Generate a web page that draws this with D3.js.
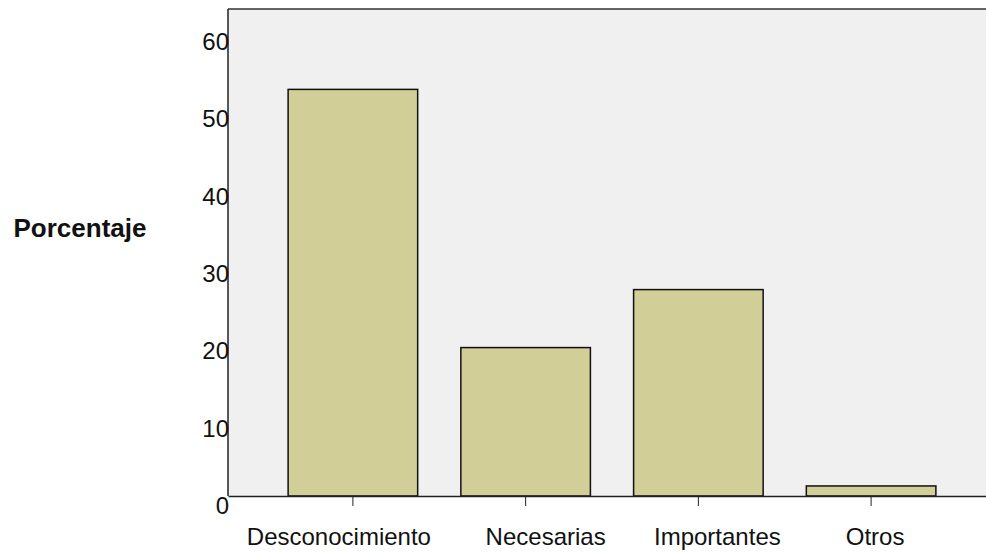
<!DOCTYPE html>
<html><head><meta charset="utf-8">
<script src="https://cdn.jsdelivr.net/npm/d3@7/dist/d3.min.js"></script>
<style>body{margin:0;background:#fff}svg{display:block}</style>
</head><body>
<svg id="c" width="986" height="552"></svg>
<script>
const categories = ["Desconocimiento", "Necesarias", "Importantes", "Otros"];
const values = [52.6, 19.2, 26.7, 1.3];
const yTicks = [0, 10, 20, 30, 40, 50, 60];
const yTitle = "Porcentaje";
// horizontal nudge of each category label relative to its tick (layout only)
const labelShift = [-14, 20, 19, 4];

const svg = d3.select("#c");
const pLeft = 228, pRight = 996, pTop = 9, pBottom = 496;
const x = d3.scaleBand().domain(categories).range([pLeft, pRight]).paddingInner(0.25).paddingOuter(0.348);
const y = d3.scaleLinear().domain([0, 63]).range([pBottom, pTop]);

svg.append("rect").attr("x", pLeft).attr("y", pTop).attr("width", pRight - pLeft).attr("height", pBottom - pTop)
  .attr("fill", "#f0f0f0");

svg.selectAll("rect.bar").data(values).enter().append("rect").attr("class", "bar")
  .attr("x", (d, i) => x(categories[i]))
  .attr("y", d => y(d))
  .attr("width", x.bandwidth())
  .attr("height", d => y(0) - y(d))
  .attr("fill", "#d2ce98").attr("stroke", "#111").attr("stroke-width", 1.5);

// frame lines
svg.append("line").attr("x1", pLeft).attr("x2", pRight).attr("y1", pTop).attr("y2", pTop).attr("stroke", "#333").attr("stroke-width", 1.5);
svg.append("line").attr("x1", pLeft).attr("x2", pLeft).attr("y1", pTop).attr("y2", pBottom).attr("stroke", "#222").attr("stroke-width", 1.5);

// x axis
const xAxis = d3.axisBottom(x).tickSize(10).tickSizeOuter(0).tickPadding(22);
const gx = svg.append("g").attr("transform", `translate(0,${pBottom})`).call(xAxis);
gx.select(".domain").attr("stroke", "#222").attr("stroke-width", 1.5);
gx.selectAll(".tick line").attr("stroke", "#222");
gx.selectAll(".tick text").attr("font-family", "Liberation Sans, Arial, sans-serif").attr("font-size", 24).attr("fill", "#111")
  .attr("dy", null).attr("y", 49)
  .attr("x", (d) => labelShift[categories.indexOf(d)]);

// y axis labels
const yAxis = d3.axisLeft(y).tickValues(yTicks).tickSize(0).tickPadding(0);
const gy = svg.append("g").attr("transform", `translate(${pLeft + 1},0)`).call(yAxis);
gy.select(".domain").remove();
gy.selectAll(".tick text").attr("font-family", "Liberation Sans, Arial, sans-serif").attr("font-size", 24).attr("fill", "#111")
  .attr("dy", null).attr("y", 17.5);

svg.append("text").attr("x", 80).attr("y", 237).attr("text-anchor", "middle")
  .attr("font-family", "Liberation Sans, Arial, sans-serif").attr("font-size", 26).attr("font-weight", "bold")
  .attr("fill", "#111").text(yTitle);
</script>
</body></html>
